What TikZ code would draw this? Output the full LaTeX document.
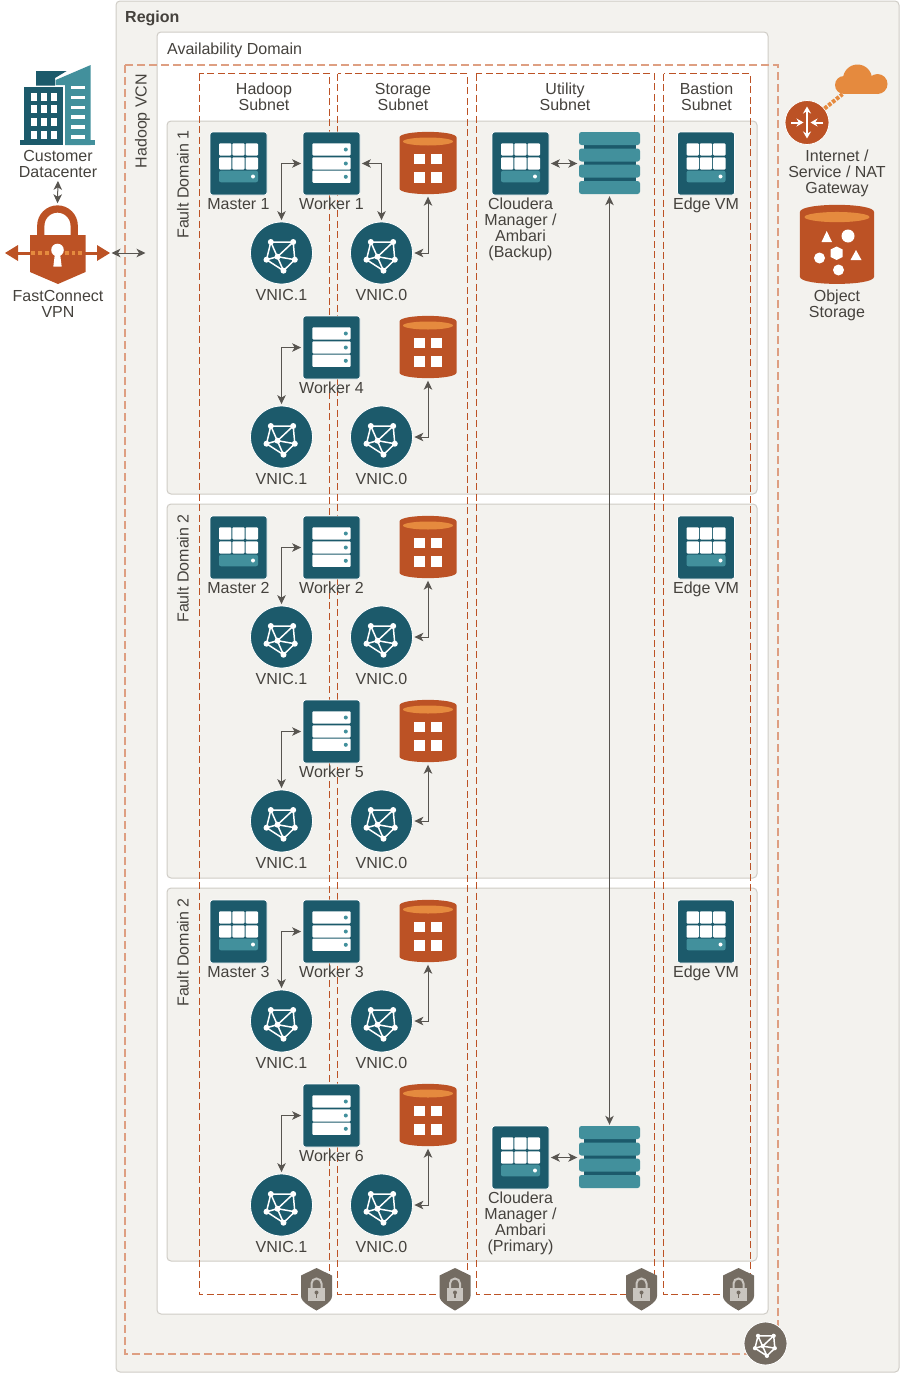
\documentclass[tikz,border=0pt]{standalone}
\usepackage{fontspec}
\setmainfont{Liberation Sans}
\usepackage{xcolor}
\usetikzlibrary{arrows.meta}
\definecolor{tealdark}{HTML}{1C5A6B}
\definecolor{teallight}{HTML}{42909C}
\definecolor{rust}{HTML}{BC5225}
\definecolor{amber}{HTML}{E58A3E}
\definecolor{stone}{HTML}{746C62}
\definecolor{stonelight}{HTML}{C9C5BF}
\definecolor{panel}{HTML}{F3F2EE}
\definecolor{rim}{HTML}{CFCCC6}
\definecolor{ink}{HTML}{45423D}
\definecolor{vcnline}{HTML}{DE9F82}
\begin{document}
\begin{tikzpicture}[x=1pt,y=-1pt]
        \tikzset{
            txt/.style={anchor=base,align=center,inner sep=0pt,text=ink,font=\fontsize{16}{16}\selectfont},
            box/.style={draw=rim,fill=panel,rounded corners=4pt,line width=1pt},
            subnet/.style={draw=rust,line width=.9pt,dash pattern=on 7pt off 3.5pt},
            vcnbox/.style={draw=vcnline,line width=1.6pt,dash pattern=on 8pt off 4pt},
            link/.style={draw=ink!90,line width=1pt,<->,>={Stealth[length=9pt,width=8.5pt,inset=2.5pt]},shorten <=1.5pt,shorten >=1.5pt},
            iconbox/.style={draw=white,fill=tealdark,rounded corners=2.5pt,minimum width=57pt,minimum height=63pt,inner sep=0pt,line width=.8pt},
            mesh/.pic={
                \draw[white,line width=1.5pt] (-10.7,-11) -- (11.7,-11) -- (13.3,6.7) -- (2,17.7) -- (-15,6.7) -- cycle
                    (-10.7,-11) -- (2,17.7) (-4,3.7) -- (11.7,-11) (-4,3.7) -- (13.3,6.7) (-4,3.7) -- (-15,6.7);
                \foreach \px/\py in {-10.7/-11,11.7/-11,13.3/6.7,2/17.7,-15/6.7,-4/3.7}
                    \fill[white] (\px,\py) circle (3);
            },
            vnicicon/.pic={
                \node[circle,draw=white,fill=tealdark,minimum size=62pt,inner sep=0pt,line width=.8pt] (-disc) at (0,0) {};
                \pic at (0,0) {mesh};
            },
            vcnicon/.pic={
                \node[circle,draw=white,fill=stone,minimum size=43pt,inner sep=0pt,line width=.8pt] (-disc) at (0,0) {};
                \pic[scale=.7] at (0,0) {mesh};
            },
            mastericon/.pic={
                \node[iconbox] (-box) at (0,0) {};
                \foreach \cx in {-13.3,0,13.3}
                    \foreach \cy in {-14,0}
                        \fill[white,rounded corners=1pt] (\cx-6.2,\cy-6.2) rectangle (\cx+6.2,\cy+6);
                \fill[teallight,rounded corners=2pt] (-19.5,7.2) rectangle (19.5,18.8);
                \fill[white] (14.5,13) circle (2);
            },
            workericon/.pic={
                \node[iconbox] (-box) at (0,0) {};
                \foreach \cy in {-14,0,13.3} {
                    \fill[white,rounded corners=1pt] (-19.2,\cy-6.2) rectangle (19.2,\cy+6);
                    \fill[teallight] (14.3,\cy) circle (2);
                }
            },
            barrel/.pic={
                \fill[rust] (-28.5,-26) .. controls (-28.5,-33.5) and (28.5,-33.5) .. (28.5,-26) -- (28.5,25)
                    .. controls (28.5,32.5) and (-28.5,32.5) .. (-28.5,25) -- cycle;
                \fill[amber] (0,-22) ellipse (25 and 4);
            },
            diskicon/.pic={
                \node[minimum width=57pt,minimum height=63pt,inner sep=0pt] (-box) at (0,0) {};
                \pic at (0,0) {barrel};
                \foreach \cx in {-8.5,8.5}
                    \foreach \cy in {-4.5,14}
                        \fill[white] (\cx-5.2,\cy-5.2) rectangle (\cx+5.2,\cy+5.2);
            },
            bucketicon/.pic={
                \node[minimum width=74pt,minimum height=80pt,inner sep=0pt] (-box) at (0,0) {};
                \pic[xscale=1.3,yscale=1.27] at (0,0) {barrel};
                \fill[white] (-10.3,-14) -- (-15.5,-3) -- (-5,-3) -- cycle;
                \fill[white] (11,-9) circle (6.5);
                \fill[white] (-.5,1.5) -- (5.5,4.5) -- (5.5,12) -- (-.5,15) -- (-6.5,12) -- (-6.5,4.5) -- cycle;
                \fill[white] (-17.5,13) circle (5.5);
                \fill[white] (19,5) -- (13.5,15) -- (24.5,15) -- cycle;
                \fill[white] (1.5,25) circle (5.5);
            },
            volumeicon/.pic={
                \node[minimum width=61pt,minimum height=62pt,inner sep=0pt] (-box) at (0,0) {};
                \fill[tealdark] (-26,-28) rectangle (26,28);
                \foreach \cy in {-25,-8.5,7.5,24}
                    \fill[teallight,rounded corners=2.5pt] (-30.5,\cy-6.5) rectangle (30.5,\cy+6.5);
            },
            shieldicon/.pic={
                \fill[stone] (0,-21) -- (15.5,-13.5) -- (15.5,7) .. controls (15.5,13) and (6,18) .. (0,21.5)
                    .. controls (-6,18) and (-15.5,13) .. (-15.5,7) -- (-15.5,-13.5) -- cycle;
                \draw[stonelight,line width=2pt] (-5,0) -- (-5,-5.5) arc[start angle=180,end angle=360,radius=5] -- (5,0);
                \fill[stonelight] (-8.3,-1.5) rectangle (8.3,11.5);
                \fill[stone] (0,3.5) circle (2);
                \fill[stone] (-.8,3.5) rectangle (.8,8.5);
            },
            buildingicon/.pic={
                \fill[tealdark] (-22,-30) -- (8.7,-30) -- (-3,-23) -- (-3,-15.3) -- (-22,-15.3) -- cycle;
                \fill[tealdark] (-33.7,-13.7) rectangle (5,44);
                \fill[teallight] (-2.3,-21) -- (32.7,-36) -- (32.7,44) -- (7,44) -- (7,-16) -- (-2.3,-16) -- cycle;
                \fill[teallight] (7,38.5) rectangle (37,44);
                \fill[tealdark] (-38,38.5) rectangle (5,44);
                \foreach \cx in {-24.3,-14.3,-4.3}
                    \foreach \cy in {-3.8,8.2,20.7,33.7}
                        \fill[white] (\cx-3,\cy-3.8) rectangle (\cx+3,\cy+3.8);
                \foreach \cy in {-13.5,-3.3,6.3,16,26,36}
                    \fill[white] (13,\cy-1.7) rectangle (27,\cy+1.7);
            },
            vpnicon/.pic={
                \coordinate (-out) at (52.5,0);
                \node[minimum width=55.5pt,minimum height=78.6pt,inner sep=0pt] (-box) at (0,-8.7) {};
                \draw[rust,line width=7.3pt] (-16.7,-18) -- (-16.7,-27.3) arc[start angle=180,end angle=360,radius=16.7] -- (16.7,-18);
                \fill[rust] (-27.5,-18) -- (28,-18) -- (28,19) -- (.5,31) -- (-27.5,19) -- cycle;
                \draw[rust,line width=3pt] (-40,0) -- (40,0);
                \fill[rust] (-52.5,0) -- (-39.5,-8) -- (-39.5,8) -- cycle;
                \fill[rust] (52.5,0) -- (39.5,-8) -- (39.5,8) -- cycle;
                \foreach \cx in {-24.5,-17.5,-10.5,9.5,16,22.5}
                    \fill[amber] (\cx-1.8,-1.8) rectangle (\cx+1.8,1.8);
                \fill[white] (0,-3) circle (6.3);
                \fill[white] (-2.5,0) -- (2.5,0) -- (4.2,13.7) -- (-4.2,13.7) -- cycle;
            },
            gatewayicon/.pic={
                \node[circle,draw=white,fill=rust,minimum size=44pt,inner sep=0pt,line width=.8pt] (-disc) at (0,0) {};
                \draw[white,line width=2pt,<->,>={Stealth[length=7pt,width=8pt]}] (0,-16) -- (0,16);
                \draw[white,line width=2pt,->,>={Stealth[length=7pt,width=8pt]}] (-16,0) -- (-3.5,0);
                \draw[white,line width=2pt,->,>={Stealth[length=7pt,width=8pt]}] (16,0) -- (3.5,0);
            },
            cloudicon/.pic={
                \node[minimum width=53pt,minimum height=30pt,inner sep=0pt] (-box) at (0,0) {};
                \fill[amber] (-17.5,6) circle (9);
                \fill[amber] (-4,0) circle (14.5);
                \fill[amber] (16,5) circle (10);
                \fill[amber] (-17.5,6) rectangle (16,15);
            }
        }
        \useasboundingbox (0,0) rectangle (900,1373);
        \draw[box] (116,1) rectangle (899,1372);
        \draw[box,fill=white] (157,32) rectangle (768,1314);
        \foreach \top/\bot in {121/494,504/878,888/1261}
            \draw[box] (167,\top) rectangle (757,\bot);
        \foreach \lft/\rgt in {199/329.5,337.5/467.5,476/654.5,663.5/750.5}
            \draw[subnet] (\lft,73.5) rectangle (\rgt,1294.5);
        \draw[vcnbox] (125,65) rectangle (778,1354);
        \node[txt,anchor=base west,font=\fontsize{16}{16}\selectfont\bfseries] (region) at (125,22) {Region};
        \node[txt,anchor=base west] (adomain) at (167,54) {Availability Domain};
        \node[txt,rotate=90] (vcn) at (146.5,121) {Hadoop VCN};
        \node[txt] (hadoop) at (264,110.5) {Hadoop\\Subnet};
        \node[txt] (storage) at (403,110.5) {Storage\\Subnet};
        \node[txt] (utility) at (565,110.5) {Utility\\Subnet};
        \node[txt] (bastion) at (706.5,110.5) {Bastion\\Subnet};
        \node[txt,rotate=90] (fd1) at (188.5,184.5) {Fault Domain 1};
        \node[txt,rotate=90] (fd2) at (188.5,568.5) {Fault Domain 2};
        \node[txt,rotate=90] (fd3) at (188.5,952.5) {Fault Domain 2};
        \foreach \n/\y in {1/163.5,2/547.5,3/931.5} {
            \pic (m\n) at (238.5,\y) {mastericon};
            \node[txt] (mlab\n) at (238.5,\y+46) {Master \n};
        }
        \foreach \n/\y in {1/163.5,2/547.5,3/931.5}
            \pic (e\n) at (706,\y) {mastericon};
        \foreach \n/\y in {1/163.5,2/547.5,3/931.5}
            \node[txt] (elab\n) at (706,\y+46) {Edge VM};
        \foreach \n/\y in {1/163.5,4/347.5,2/547.5,5/731.5,3/931.5,6/1115.5} {
            \pic (w\n) at (331.5,\y) {workericon};
            \node[txt] (wlab\n) at (331.5,\y+46) {Worker \n};
            \pic (d\n) at (428,\y) {diskicon};
            \pic (vo\n) at (281.5,\y+89.5) {vnicicon};
            \pic (vz\n) at (381.5,\y+89.5) {vnicicon};
            \node[txt] (volab\n) at (281.5,\y+136.5) {VNIC.1};
            \node[txt] (vzlab\n) at (381.5,\y+136.5) {VNIC.0};
            \draw[link] (w\n-box.west) -| (vo\n-disc.north);
            \draw[link] (d\n-box.south) |- (vz\n-disc.east);
        }
        \draw[link] (w1-box.east) -| (vz1-disc.north);
        \pic (cmb) at (520.5,163.5) {mastericon};
        \pic (cmp) at (520.5,1157.5) {mastericon};
        \pic (volb) at (609.5,163.5) {volumeicon};
        \pic (volp) at (609.5,1157.5) {volumeicon};
        \node[txt] (cmblab) at (520.5,257.5) {Cloudera\\Manager /\\Ambari\\(Backup)};
        \node[txt] (cmplab) at (520.5,1251.5) {Cloudera\\Manager /\\Ambari\\(Primary)};
        \draw[link] (cmb-box.east) -- (volb-box.west);
        \draw[link] (cmp-box.east) -- (volp-box.west);
        \draw[link] (volb-box.south) -- (volp-box.north);
        \foreach \x [count=\i] in {316.5,455,641.5,738.5}
            \pic (sl\i) at (\x,1289) {shieldicon};
        \pic (vcnmark) at (765.5,1343.5) {vcnicon};
        \pic (dc) at (58,101) {buildingicon};
        \node[txt] (dclab) at (58,177.5) {Customer\\Datacenter};
        \pic (vpn) at (57.5,253) {vpnicon};
        \node[txt] (vpnlab) at (58,317.5) {FastConnect\\VPN};
        \coordinate (vcnport) at (147,253);
        \draw[link,shorten <=3pt,shorten >=1.5pt] (dclab.south) -- (vpn-box.north);
        \draw[link] (vpn-out) -- (vcnport);
        \pic (gw) at (807,122.5) {gatewayicon};
        \pic (inet) at (861.5,79) {cloudicon};
        \draw[amber,line width=4pt,dash pattern=on 3.5pt off 1.5pt] (gw-disc) -- (inet-box);
        \node[txt] (gwlab) at (837,193.5) {Internet /\\Service / NAT\\Gateway};
        \pic (obj) at (837,245) {bucketicon};
        \node[txt] (objlab) at (837,317.5) {Object\\Storage};
    \end{tikzpicture}
\end{document}
